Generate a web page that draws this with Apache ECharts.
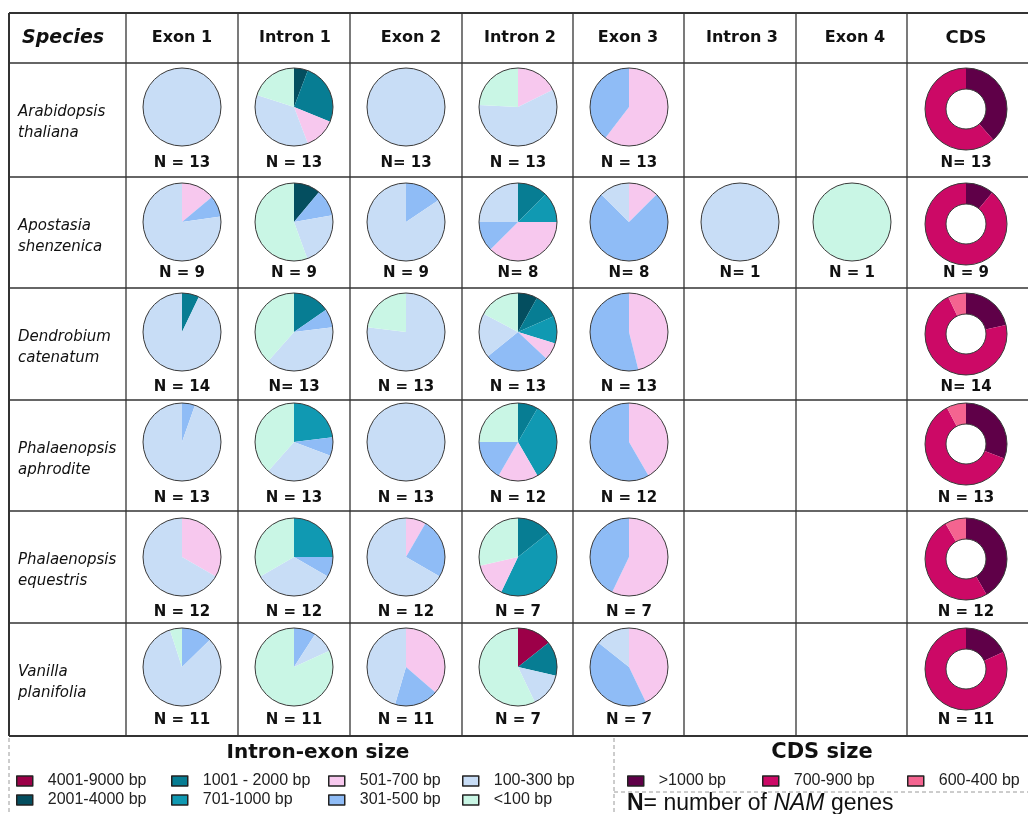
<!DOCTYPE html>
<html>
<head>
<meta charset="utf-8">
<script src="https://cdn.jsdelivr.net/npm/echarts@6/dist/echarts.min.js"></script>
<style>
  html, body { margin: 0; padding: 0; background: #fff; }
  #chart { width: 1028px; height: 814px; }
</style>
</head>
<body>
<div id="chart"></div>
<script>
// species (rows) and gene parts (columns)
const species = ['Arabidopsis\nthaliana', 'Apostasia\nshenzenica', 'Dendrobium\ncatenatum',
  'Phalaenopsis\naphrodite', 'Phalaenopsis\nequestris', 'Vanilla\nplanifolia'];
const parts = ['Exon 1', 'Intron 1', 'Exon 2', 'Intron 2', 'Exon 3', 'Intron 3', 'Exon 4', 'CDS'];

// size classes for intron / exon pies (order = clockwise from 12 o'clock)
const sizeClasses = ['4001-9000 bp', '2001-4000 bp', '1001 - 2000 bp', '701-1000 bp',
  '501-700 bp', '301-500 bp', '100-300 bp', '<100 bp'];
const sizeColors = ['#9c0048', '#044e5f', '#077d93', '#1099b2',
  '#f7c8ee', '#8fbcf6', '#c8ddf6', '#c9f6e5'];
const cdsClasses = ['>1000 bp', '700-900 bp', '600-400 bp'];
const cdsColors = ['#5f0048', '#cc0966', '#f46490'];

// gene counts per size class, one row per species
const exon1 = [
  [0, 0, 0, 0, 0, 0, 13, 0],
  [0, 0, 0, 0, 1.25, 0.8, 6.95, 0],
  [0, 0, 1, 0, 0, 0, 13, 0],
  [0, 0, 0, 0, 0, 0.7, 12.3, 0],
  [0, 0, 0, 0, 4, 0, 8, 0],
  [0, 0, 0, 0, 0, 1.4, 9.05, 0.55]
];
const intron1 = [
  [0, 0.75, 3.3, 0, 1.7, 0, 4.65, 2.6],
  [0, 1, 0, 0, 0, 1, 2, 5],
  [0, 0, 2, 0, 0, 1, 5, 5],
  [0, 0, 0, 3, 0, 1, 4, 5],
  [0, 0, 0, 3, 0, 1, 4, 4],
  [0, 0, 0, 0, 0, 1, 1, 9]
];
const exon2 = [
  [0, 0, 0, 0, 0, 0, 13, 0],
  [0, 0, 0, 0, 0, 1.4, 7.6, 0],
  [0, 0, 0, 0, 0, 0, 10, 3],
  [0, 0, 0, 0, 0, 0, 13, 0],
  [0, 0, 0, 0, 1, 3, 8, 0],
  [0, 0, 0, 0, 4, 2, 5, 0]
];
const intron2 = [
  [0, 0, 0, 0, 2.3, 0, 7.55, 3.15],
  [0, 0, 1, 1, 3, 1, 2, 0],
  [0, 1.05, 1.34, 1.48, 0.94, 3.54, 2.42, 2.24],
  [0, 0, 1, 4, 2, 2, 0, 3],
  [0, 0, 1, 3, 1, 0, 0, 2],
  [1, 0, 1, 0, 0, 0, 1, 4]
];
const exon3 = [
  [0, 0, 0, 0, 7.85, 5.15, 0, 0],
  [0, 0, 0, 0, 1, 6, 1, 0],
  [0, 0, 0, 0, 6, 7, 0, 0],
  [0, 0, 0, 0, 5, 7, 0, 0],
  [0, 0, 0, 0, 4, 3, 0, 0],
  [0, 0, 0, 0, 3, 3, 1, 0]
];
const intron3 = [null, [0, 0, 0, 0, 0, 0, 1, 0], null, null, null, null];
const exon4 = [null, [0, 0, 0, 0, 0, 0, 0, 1], null, null, null, null];
const cds = [[5, 8, 0], [1, 8, 0], [3, 10, 1], [4, 8, 1], [5, 6, 1], [2, 9, 0]];

const nText = [
  ['N = 13', 'N = 13', 'N= 13', 'N = 13', 'N = 13', '', '', 'N= 13'],
  ['N = 9', 'N = 9', 'N = 9', 'N= 8', 'N= 8', 'N= 1', 'N = 1', 'N = 9'],
  ['N = 14', 'N= 13', 'N = 13', 'N = 13', 'N = 13', '', '', 'N= 14'],
  ['N = 13', 'N = 13', 'N = 13', 'N = 12', 'N = 12', '', '', 'N = 13'],
  ['N = 12', 'N = 12', 'N = 12', 'N = 7', 'N = 7', '', '', 'N = 12'],
  ['N = 11', 'N = 11', 'N = 11', 'N = 7', 'N = 7', '', '', 'N = 11']
];

const columns = [exon1, intron1, exon2, intron2, exon3, intron3, exon4];

// layout
const colLines = [9, 126, 238, 350, 462, 573, 684, 796, 907];
const rowLines = [13, 63, 177, 288, 400, 511, 623, 736];
const colCenter = [182, 294, 406, 518, 629, 740, 852, 966];
const headCenter = [182, 295, 411, 520, 628, 742, 855, 966];
const pieY = [107, 222, 332, 442, 557, 667];
const labelY = [163, 273, 387, 498, 612, 720];
const FONT = 'DejaVu Sans';
const LINE = '#333';

let chart = echarts.init(document.getElementById('chart'));

let series = [];
let outline = (center, radius) => ({
  type: 'pie', center: center, radius: radius, silent: true,
  label: { show: false }, labelLine: { show: false },
  emphasis: { disabled: true },
  itemStyle: { color: 'rgba(0,0,0,0)', borderColor: '#3a3a3a', borderWidth: 1 },
  data: [{ name: 'outline', value: 1 }]
});

columns.forEach((col, c) => {
  col.forEach((vals, r) => {
    if (!vals) return;
    let data = [];
    vals.forEach((v, k) => {
      if (v > 0) data.push({ name: sizeClasses[k], value: v, itemStyle: { color: sizeColors[k] } });
    });
    let center = [colCenter[c], pieY[r]];
    series.push({
      type: 'pie', center: center, radius: 39, startAngle: 90, clockwise: true,
      label: { show: false }, labelLine: { show: false },
      emphasis: { disabled: true },
      itemStyle: { borderWidth: 0 },
      data: data
    });
    series.push(outline(center, 39));
  });
});

cds.forEach((vals, r) => {
  let data = [];
  vals.forEach((v, k) => {
    if (v > 0) data.push({ name: cdsClasses[k], value: v, itemStyle: { color: cdsColors[k] } });
  });
  let center = [colCenter[7], pieY[r] + 2];
  series.push({
    type: 'pie', center: center, radius: [20, 41], startAngle: 90, clockwise: true,
    label: { show: false }, labelLine: { show: false },
    emphasis: { disabled: true },
    itemStyle: { borderWidth: 0 },
    data: data
  });
  series.push(outline(center, [20, 41]));
});

// legends, one component per item so they sit in a grid
let legends = [];
let legendItem = (name, left, yMid) => ({
  left: left, top: yMid - 9, padding: 0, itemGap: 0,
  icon: 'rect', itemWidth: 16, itemHeight: 10, selectedMode: false,
  itemStyle: { borderColor: '#222', borderWidth: 1.5 },
  textStyle: { fontFamily: 'Liberation Sans', fontSize: 16, color: '#222', padding: [0, 0, 0, 10] },
  data: [name]
});
const sizeLegendX = [16, 171, 328, 462];
const sizeLegendY = [782, 801];
sizeClasses.forEach((name, i) => {
  legends.push(legendItem(name, sizeLegendX[Math.floor(i / 2)], sizeLegendY[i % 2]));
});
const cdsLegendX = [627, 762, 907];
cdsClasses.forEach((name, i) => {
  legends.push(legendItem(name, cdsLegendX[i], 782));
});

// table and texts
let graphics = [];
let line = (x1, y1, x2, y2, w) => ({
  type: 'line', silent: true, shape: { x1: x1, y1: y1, x2: x2, y2: y2 },
  style: { stroke: LINE, lineWidth: w }
});
rowLines.forEach((y, i) => {
  let w = (i === 0 || i === rowLines.length - 1) ? 2 : 1.5;
  graphics.push(line(9, y, 1028, y, w));
});
colLines.forEach((x, i) => {
  graphics.push(line(x, 13, x, 736, i === 0 ? 2 : 1.3));
});

let text = (t, x, y, font, align) => ({
  type: 'text', silent: true, x: x, y: y,
  style: { text: t, font: font, fill: '#111', textAlign: align || 'center', textVerticalAlign: 'middle' }
});

graphics.push(text('Species', 22, 38, 'italic bold 19px "' + FONT + '"', 'left'));
parts.forEach((p, c) => {
  let size = p === 'CDS' ? 18 : 16;
  graphics.push(text(p, headCenter[c], 38, 'bold ' + size + 'px "' + FONT + '"'));
});
species.forEach((s, r) => {
  let t = text(s, 18, rowLines[r + 1] + 60, 'italic 15px "' + FONT + '"', 'left');
  t.style.lineHeight = 21;
  graphics.push(t);
});
nText.forEach((row, r) => {
  row.forEach((t, c) => {
    if (t) graphics.push(text(t, colCenter[c], labelY[r], 'bold 15px "' + FONT + '"'));
  });
});

// legend frame
let dash = (x1, y1, x2, y2) => ({
  type: 'line', silent: true, shape: { x1: x1, y1: y1, x2: x2, y2: y2 },
  style: { stroke: '#9a9a9a', lineWidth: 1, lineDash: [4, 3] }
});
graphics.push(dash(9, 738, 9, 814));
graphics.push(dash(614, 738, 614, 814));
graphics.push(dash(614, 792, 1028, 792));

graphics.push(text('Intron-exon size', 318, 753, 'bold 20px "' + FONT + '"'));
graphics.push(text('CDS size', 822, 753, 'bold 21px "' + FONT + '"'));
graphics.push({
  type: 'text', silent: true, x: 627, y: 804,
  style: {
    text: '{b|N}{n|= number of }{i|NAM}{n| genes}',
    textVerticalAlign: 'middle', fill: '#111',
    rich: {
      b: { fontFamily: 'Liberation Sans', fontWeight: 'bold', fontSize: 23, fill: '#111' },
      n: { fontFamily: 'Liberation Sans', fontSize: 23, fill: '#111' },
      i: { fontFamily: 'Liberation Sans', fontStyle: 'italic', fontSize: 23, fill: '#111' }
    }
  }
});

chart.setOption({
  animation: false,
  backgroundColor: '#fff',
  legend: legends,
  series: series,
  graphic: graphics
});
</script>
</body>
</html>
